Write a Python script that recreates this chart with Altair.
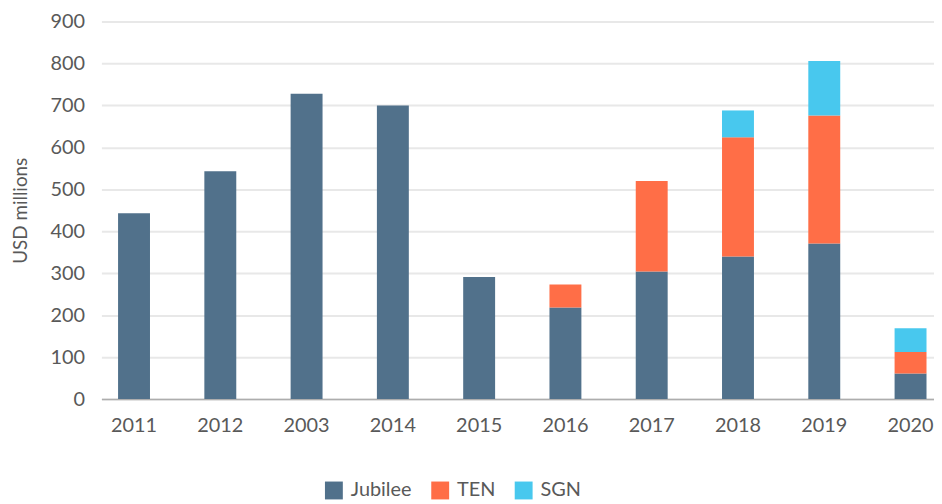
import altair as alt
import pandas as pd

years = ["2011", "2012", "2003", "2014", "2015", "2016", "2017", "2018", "2019", "2020"]
jubilee = [443, 543, 728, 700, 291, 218, 304, 340, 371, 61]
ten = [0, 0, 0, 0, 0, 55, 216, 284, 305, 51]
sgn = [0, 0, 0, 0, 0, 0, 0, 64, 130, 57]
series = ["Jubilee", "TEN", "SGN"]
colors = ["#51718B", "#FF6E47", "#48C8EE"]

rows = []
for i, yr in enumerate(years):
    for k, (name, vals) in enumerate(zip(series, [jubilee, ten, sgn])):
        if vals[i] > 0:
            rows.append({"year": yr, "series": name, "value": vals[i], "ord": k})
df = pd.DataFrame(rows)

FONT = "Lato"
TXT = "#595959"

chart = alt.Chart(df).mark_bar().encode(
    x=alt.X("year:N", sort=years,
            scale=alt.Scale(paddingInner=0.63, paddingOuter=0.14, align=0.69),
            axis=alt.Axis(title=None, labelAngle=0, ticks=False, domain=True,
                          domainColor="#ADADAD", domainWidth=1.5, labelPadding=17,
                          labelFontSize=20, labelColor=TXT, labelFont=FONT, grid=False)),
    y=alt.Y("value:Q", stack="zero", scale=alt.Scale(domain=[0, 900], nice=False),
            axis=alt.Axis(title="USD millions", values=list(range(0, 1000, 100)),
                          ticks=False, domain=False, gridColor="#E8E8E8", gridWidth=2,
                          labelPadding=17, labelFontSize=20, labelColor=TXT, labelFont=FONT,
                          titleFontSize=19, titleFontWeight="normal", titleColor=TXT,
                          titleFont=FONT, titlePadding=20)),
    color=alt.Color("series:N", scale=alt.Scale(domain=series, range=colors),
                    legend=alt.Legend(title=None, orient="none", legendX=224, legendY=462,
                                      direction="horizontal", symbolType="square",
                                      symbolSize=324, symbolStrokeWidth=0,
                                      labelFontSize=20, labelColor=TXT, labelFont=FONT,
                                      columnPadding=18, labelOffset=7)),
    order=alt.Order("ord:Q"),
).properties(
    width=838, height=380,
    padding={"left": 94, "top": 12, "right": 0, "bottom": 104},
    autosize=alt.AutoSizeParams(type="none"),
).configure_view(stroke=None)

chart.save("out.html", embed_options={"renderer": "svg", "actions": False})
